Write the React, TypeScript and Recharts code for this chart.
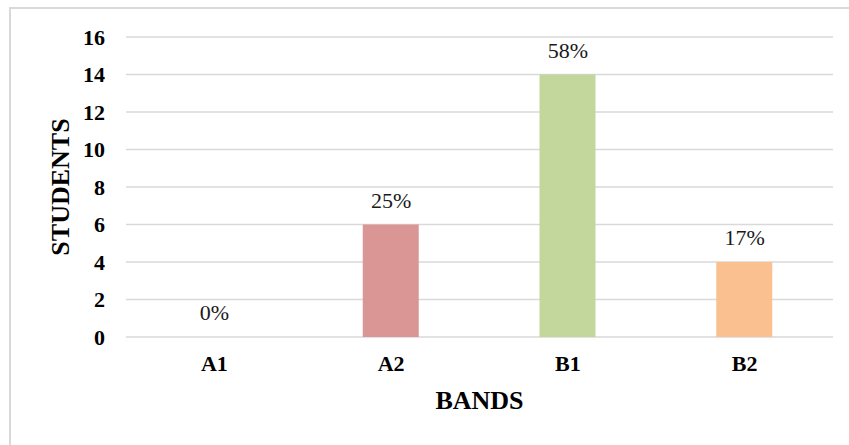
import { Bar, CartesianGrid, Cell, ComposedChart, LabelList, Line, XAxis, YAxis } from "recharts";

const bands = ["A1", "A2", "B1", "B2"];
const students = [0, 6, 14, 4];
const shares = ["0%", "25%", "58%", "17%"];
const yTicks = [0, 2, 4, 6, 8, 10, 12, 14, 16];
const colors = ["#95B3D7", "#D99694", "#C3D69B", "#FAC090"];

const FONT = "'Liberation Serif', 'Times New Roman', serif";

// percentage over each bar; drawn from an invisible line so the 0 bar gets one too
const ShareLabel = (props: any) => {
  const { x, y, value } = props;
  return (
    <text x={x} y={y - 17} textAnchor="middle" fill="#1a1a1a" fontSize={22} fontFamily={FONT}>
      {value}
    </text>
  );
};

export default function App() {
  const data = bands.map((band, i) => ({ band, students: students[i], share: shares[i] }));

  return (
    <div style={{ position: "absolute", left: 0, top: 0, width: 849, height: 445, background: "#fff", overflow: "hidden" }}>
      <div
        style={{
          position: "absolute",
          left: 9,
          top: 7,
          width: 850,
          height: 450,
          borderTop: "2px solid #d9d9d9",
          borderLeft: "2px solid #d9d9d9",
        }}
      />
      <ComposedChart
        width={849}
        height={445}
        data={data}
        margin={{ top: 37, right: 16, bottom: 28, left: 0 }}
        barCategoryGap="34%"
        style={{ position: "absolute", left: 0, top: 0, fontFamily: FONT }}
      >
        <CartesianGrid vertical={false} stroke="#d9d9d9" strokeWidth={1.5} />
        <XAxis
          dataKey="band"
          axisLine={false}
          tickLine={false}
          height={80}
          tickMargin={12}
          tick={{ fill: "#000", fontSize: 22, fontWeight: 700, fontFamily: FONT }}
          label={{
            value: "BANDS",
            position: "insideBottom",
            offset: 8,
            fill: "#000",
            fontSize: 26,
            fontWeight: 700,
            fontFamily: FONT,
          }}
        />
        <YAxis
          domain={[0, 16]}
          ticks={yTicks}
          interval={0}
          width={126}
          axisLine={false}
          tickLine={false}
          tickMargin={15}
          tick={{ fill: "#000", fontSize: 22, fontWeight: 700, fontFamily: FONT }}
          label={{
            content: (props: any) => {
              const vb = props.viewBox || {};
              const cx = (vb.x ?? 0) + 60;
              const cy = (vb.y ?? 0) + (vb.height ?? 0) / 2;
              return (
                <text
                  x={cx}
                  y={cy}
                  transform={`rotate(-90 ${cx} ${cy})`}
                  textAnchor="middle"
                  dominantBaseline="central"
                  fill="#000"
                  fontSize={26}
                  fontWeight={700}
                  fontFamily={FONT}
                >
                  STUDENTS
                </text>
              );
            },
          }}
        />
        <Bar dataKey="students" barSize={56} isAnimationActive={false}>
          {data.map((d, i) => (
            <Cell key={d.band} fill={colors[i]} />
          ))}
        </Bar>
        <Line
          dataKey="students"
          stroke="none"
          dot={false}
          activeDot={false}
          legendType="none"
          isAnimationActive={false}
        >
          <LabelList dataKey="share" content={ShareLabel} />
        </Line>
      </ComposedChart>
    </div>
  );
}
